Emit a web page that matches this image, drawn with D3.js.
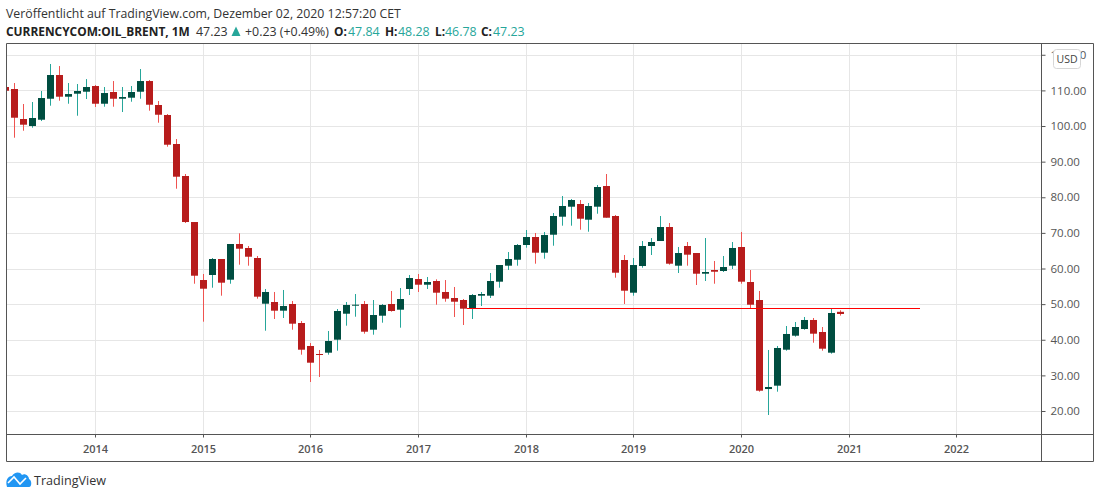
<!DOCTYPE html>
<html>
<head>
<meta charset="utf-8">
<script src="https://cdn.jsdelivr.net/npm/d3@7/dist/d3.min.js"></script>
<style>
    html, body { margin: 0; padding: 0; background: #fff; }
    svg { display: block; }
    text { font-family: "Open Sans", sans-serif; }
</style>
</head>
<body>
<script>
//Monthly candles, first one is March 2013, last one December 2020
var opens = [110.95,110.39,101.97,100.00,101.77,107.66,114.32,108.23,109.07,109.63,111.23,106.26,109.55,107.66,107.95,109.63,112.63,105.90,103.09,94.95,85.97,73.05,56.77,58.18,62.67,56.86,66.88,65.76,62.95,50.12,50.60,48.16,50.04,44.70,38.25,36.00,36.37,40.02,47.31,49.56,50.04,42.82,46.75,50.04,48.44,54.25,57.05,55.45,56.49,53.41,51.72,51.16,48.72,52.37,52.37,56.30,60.79,62.47,66.60,68.84,64.44,69.49,74.54,77.35,78.11,73.70,77.35,83.16,74.74,62.39,53.21,60.70,66.32,67.72,71.65,60.79,66.32,64.35,58.54,59.58,59.30,60.79,66.04,56.21,51.16,26.17,27.11,37.21,41.14,43.02,45.55,42.18,36.37,47.84];
var highs = [111.20,112.07,106.18,106.74,109.83,117.41,116.84,112.07,111.79,113.17,111.51,110.95,112.63,110.95,111.23,116.00,112.91,107.02,103.37,96.35,86.53,73.05,58.46,62.95,62.67,66.88,69.88,66.32,63.51,54.25,53.41,53.97,50.88,45.26,39.09,37.13,42.46,48.63,50.60,52.84,50.88,51.16,50.04,53.69,54.53,58.18,58.46,57.62,56.97,56.77,54.81,51.44,52.84,53.41,58.74,60.98,64.63,66.88,70.81,69.97,70.25,75.58,80.35,79.51,79.23,78.39,83.44,86.53,75.02,63.79,62.95,67.72,68.56,74.74,72.77,66.04,67.44,64.35,68.56,62.11,63.51,67.44,70.25,59.58,53.69,37.13,38.25,43.86,44.98,46.39,46.11,43.58,48.91,48.28];
var lows = [109.90,96.72,98.68,99.52,101.40,105.70,107.10,106.26,102.89,107.58,105.34,105.42,105.42,103.93,106.82,107.66,104.30,100.93,94.19,82.40,72.77,55.73,45.07,54.61,52.37,55.73,61.07,60.79,51.53,42.54,45.83,46.11,42.82,35.81,28.14,29.55,35.81,36.93,43.95,46.47,41.70,41.42,44.79,47.88,43.39,52.56,53.41,54.25,49.84,50.68,46.39,44.14,45.83,49.47,51.72,54.61,59.58,60.79,65.84,61.35,62.75,66.40,72.02,72.02,70.89,70.33,75.38,74.26,57.42,50.04,52.37,60.22,63.79,67.72,61.07,58.74,60.79,55.37,56.49,55.73,59.02,59.86,55.73,48.72,25.42,18.88,25.42,36.93,40.86,42.82,39.17,36.93,36.09,46.78];
var closes = [109.90,102.33,100.37,102.25,107.86,114.32,108.23,108.98,109.83,110.95,106.26,109.26,107.66,108.14,109.55,112.63,105.98,103.17,94.75,85.77,73.05,57.98,54.33,62.67,56.02,66.88,65.56,63.31,52.09,53.41,48.16,49.47,44.51,37.21,33.56,35.72,39.65,48.07,49.76,49.84,42.26,46.95,49.76,48.07,51.44,57.33,55.45,56.21,53.21,51.53,50.68,48.72,52.56,52.84,56.49,60.98,62.67,66.60,68.84,64.44,69.40,74.74,77.55,79.23,73.98,77.55,82.88,74.26,58.82,53.77,60.98,66.32,67.44,71.65,61.35,64.35,63.88,58.54,59.02,59.10,60.42,65.76,56.30,49.84,25.70,26.74,37.69,41.62,43.58,45.55,41.70,37.49,47.51,47.23];

//Year ticks, the candle index of each January
var years = ["2014", "2015", "2016", "2017", "2018", "2019", "2020", "2021", "2022"];
var yearIndex = [10, 22, 34, 46, 58, 70, 82, 94, 106];
var priceTicks = [20, 30, 40, 50, 60, 70, 80, 90, 100, 110, 120];

//Red horizontal level drawn on the chart
var levelPrice = [48.83];
var levelIndex = [51.5, 102];

var titleLine = "Veröffentlicht auf TradingView.com, Dezember 02, 2020 12:57:20 CET";
var symbolLine = "CURRENCYCOM:OIL_BRENT, 1M";

var w = 1100;
var h = 498;

//Chart frame
var left = 6.5, right = 1041.5, top_ = 43.5, bottom = 434.5;
var outerRight = 1093.5, outerBottom = 461.5;

var red = "#b71c1c", redWick = "#ef5350";
var green = "#004d40", greenWick = "#26a69a";
var gridColor = "#e6e6e6", frameColor = "#555555";

var svg = d3.select("body").append("svg")
    .attr("width", w)
    .attr("height", h);

svg.append("rect").attr("width", w).attr("height", h).attr("fill", "#fff");

//Set up scales
var x = d3.scaleLinear()
    .domain([10, 82])
    .rangeRound([95, 741]);

var y = d3.scaleLinear()
    .domain([20, 110])
    .range([411, 90.4]);

svg.append("clipPath")
    .attr("id", "plot")
    .append("rect")
    .attr("x", left)
    .attr("y", top_)
    .attr("width", right - left)
    .attr("height", bottom - top_);

//Grid
var grid = svg.append("g");

grid.selectAll(".h")
    .data(priceTicks)
    .enter()
    .append("line")
    .attr("x1", left)
    .attr("x2", right)
    .attr("y1", function(d) { return Math.round(y(d)) + 0.5; })
    .attr("y2", function(d) { return Math.round(y(d)) + 0.5; })
    .style("stroke", gridColor);

grid.selectAll(".v")
    .data(yearIndex)
    .enter()
    .append("line")
    .attr("x1", function(d) { return x(d) + 0.5; })
    .attr("x2", function(d) { return x(d) + 0.5; })
    .attr("y1", top_)
    .attr("y2", bottom)
    .style("stroke", gridColor);

//Candles
var chart = svg.append("g").attr("clip-path", "url(#plot)");

var candles = chart.selectAll(".candle")
    .data(opens)
    .enter()
    .append("g")
    .classed("candle", true);

candles.append("line")
    .attr("x1", function(d, i) { return x(i) + 0.5; })
    .attr("x2", function(d, i) { return x(i) + 0.5; })
    .attr("y1", function(d, i) { return y(highs[i]); })
    .attr("y2", function(d, i) { return y(lows[i]); })
    .style("stroke", function(d, i) { return closes[i] >= d ? greenWick : redWick; })
    .style("stroke-width", 1);

candles.append("rect")
    .attr("x", function(d, i) { return x(i) - 3; })
    .attr("width", 7)
    .attr("y", function(d, i) { return y(Math.max(d, closes[i])); })
    .attr("height", function(d, i) { return Math.max(1, Math.abs(y(d) - y(closes[i]))); })
    .style("fill", function(d, i) { return closes[i] >= d ? green : red; });

//Level line
chart.append("line")
    .attr("x1", x(levelIndex[0]))
    .attr("x2", x(levelIndex[1]))
    .attr("y1", Math.round(y(levelPrice[0])) + 0.5)
    .attr("y2", Math.round(y(levelPrice[0])) + 0.5)
    .style("stroke", "#ff0000")
    .style("stroke-width", 1);

//Axes
var yAxis = d3.axisRight(y)
    .tickValues(priceTicks)
    .tickSize(4)
    .tickPadding(5)
    .tickFormat(d3.format(".2f"));

var xAxis = d3.axisBottom(x)
    .tickValues(yearIndex)
    .tickSize(3)
    .tickPadding(8)
    .tickFormat(function(d, i) { return years[i]; });

var yG = svg.append("g")
    .attr("transform", "translate(" + right + ",0)")
    .call(yAxis);

var xG = svg.append("g")
    .attr("transform", "translate(0," + bottom + ")")
    .call(xAxis);

yG.select(".domain").remove();
xG.select(".domain").remove();
yG.selectAll("line").style("stroke", frameColor);
xG.selectAll("line").style("stroke", frameColor);
yG.selectAll("text")
    .style("font-family", "'Open Sans', sans-serif")
    .style("font-size", "11.5px")
    .style("fill", "#555");
xG.selectAll("text")
    .style("font-family", "'Open Sans', sans-serif")
    .style("font-size", "11px")
    .style("font-weight", 600)
    .style("fill", "#555");

//Frame
svg.append("path")
    .attr("d", "M" + left + "," + top_ + "H" + outerRight + "V" + outerBottom + "H" + left + "Z" +
        "M" + right + "," + top_ + "V" + outerBottom +
        "M" + left + "," + bottom + "H" + outerRight)
    .style("fill", "none")
    .style("stroke", frameColor);

//USD badge
svg.append("rect")
    .attr("x", 1053.5)
    .attr("y", 49.5)
    .attr("width", 27)
    .attr("height", 19)
    .attr("rx", 3)
    .style("fill", "#fff")
    .style("stroke", "#d6d6d6");

svg.append("text")
    .attr("x", 1067)
    .attr("y", 63)
    .style("text-anchor", "middle")
    .style("font-size", "10.5px")
    .style("fill", "#444")
    .text("USD");

//Header
svg.append("text")
    .attr("x", 6)
    .attr("y", 18)
    .style("font-size", "12.3px")
    .style("fill", "#333")
    .text(titleLine);

var headerParts = [
    {x: 6, t: symbolLine, bold: true, c: "#222"},
    {x: 196, t: "47.23", c: "#333"},
    {x: 245, t: "+0.23 (+0.49%)", c: "#333"},
    {x: 334, t: "O:", bold: true, c: "#222"},
    {x: 348, t: "47.84", c: "#26a69a"},
    {x: 385, t: "H:", bold: true, c: "#222"},
    {x: 398, t: "48.28", c: "#26a69a"},
    {x: 435, t: "L:", bold: true, c: "#222"},
    {x: 445, t: "46.78", c: "#26a69a"},
    {x: 481, t: "C:", bold: true, c: "#222"},
    {x: 493, t: "47.23", c: "#26a69a"}
];

svg.selectAll(".head")
    .data(headerParts)
    .enter()
    .append("text")
    .attr("x", function(d) { return d.x; })
    .attr("y", 36)
    .style("font-size", function(d) { return d.bold ? "11.9px" : "12.4px"; })
    .style("font-weight", function(d) { return d.bold ? 700 : 400; })
    .style("fill", function(d) { return d.c; })
    .text(function(d) { return d.t; });

svg.append("path")
    .attr("d", "M231.5,36L236,26.5L240.5,36Z")
    .style("fill", "#26a69a");

//Logo
var logo = svg.append("g");

logo.append("path")
    .attr("d", "M7,487C5,480 8,476 12,476C14,472 20,471 22,475C25,473 29,476 29,479C32,480 32,487 29,487Z")
    .style("fill", "#2196f3");

logo.append("path")
    .attr("d", "M8,483L14,477L20,484L26,478")
    .style("fill", "none")
    .style("stroke", "#fff")
    .style("stroke-width", 1.6);

svg.append("text")
    .attr("x", 34)
    .attr("y", 485)
    .style("font-size", "12.6px")
    .style("fill", "#333")
    .text("TradingView");
</script>
</body>
</html>
